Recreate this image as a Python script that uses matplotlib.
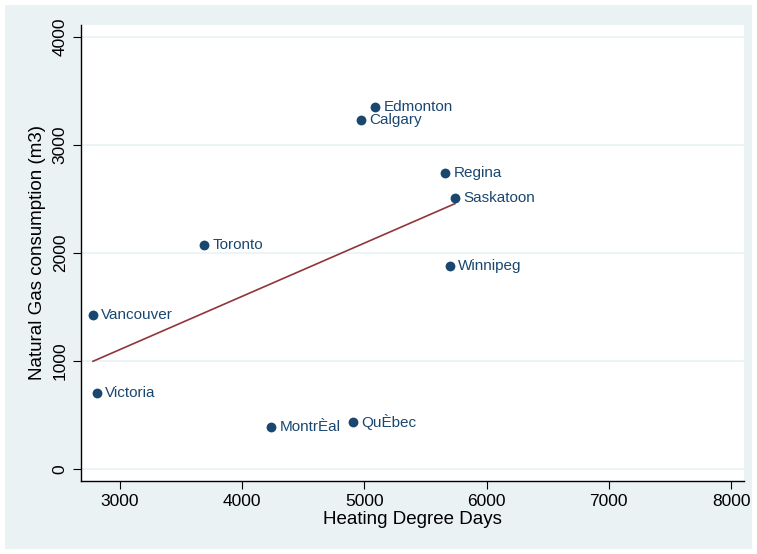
import numpy as np
import matplotlib.pyplot as plt
from matplotlib.patches import Rectangle

plt.rcParams['font.family'] = ['Liberation Sans', 'DejaVu Sans']

# city data
cities = ['Edmonton', 'Calgary', 'Regina', 'Saskatoon', 'Toronto', 'Winnipeg',
          'Vancouver', 'Victoria', 'MontrÈal', 'QuÈbec']
hdd = [5087, 4972, 5660, 5741, 3687, 5700, 2779, 2812, 4236, 4907]
gas = [3352, 3231, 2741, 2509, 2074, 1880, 1426, 704, 389, 435]

navy = '#1a476f'
maroon = '#90353b'
bg = '#eaf2f3'

fig = plt.figure(figsize=(7.57, 5.54), dpi=100)
fig.patch.set_facecolor('white')
fig.patches.append(Rectangle((5/757, 5/554), 747/757, 544/554, transform=fig.transFigure,
                             facecolor=bg, edgecolor='none', zorder=-10))
ax = fig.add_axes([81/757, 1-480.5/554, (743.5-81)/757, (480.5-25.4)/554])
ax.set_facecolor('white')

x = np.array(hdd, dtype=float)
y = np.array(gas, dtype=float)
b, a = np.polyfit(x, y, 1)
xs = np.array([x.min(), x.max()])
ax.plot(xs, a + b*xs, color=maroon, lw=1.2, zorder=2)

ax.scatter(x, y, s=50, color=navy, zorder=3, linewidths=0)
for c, xi, yi in zip(cities, x, y):
    ax.annotate(c, (xi, yi), xytext=(6, 0), textcoords='offset points',
                va='center', ha='left', color=navy, fontsize=11)

ax.set_xlim(2681, 8102)
ax.set_ylim(-106, 4107)
ax.set_xticks([3000, 4000, 5000, 6000, 7000, 8000])
ax.set_yticks([0, 1000, 2000, 3000, 4000])
ax.set_yticklabels(['0', '1000', '2000', '3000', '4000'], rotation=90, va='center')
ax.tick_params(labelsize=12.5, length=6, width=0.8, color='black')
ax.grid(axis='y', color=bg, lw=1.2)
ax.set_axisbelow(True)
for s in ['top', 'right']:
    ax.spines[s].set_visible(False)
for s in ['left', 'bottom']:
    ax.spines[s].set_linewidth(1.0)
ax.set_xlabel('Heating Degree Days', fontsize=13.5, labelpad=2)
ax.set_ylabel('Natural Gas consumption (m3)', fontsize=13.5, labelpad=5)

fig.savefig('out.png', dpi=100, facecolor='white')
